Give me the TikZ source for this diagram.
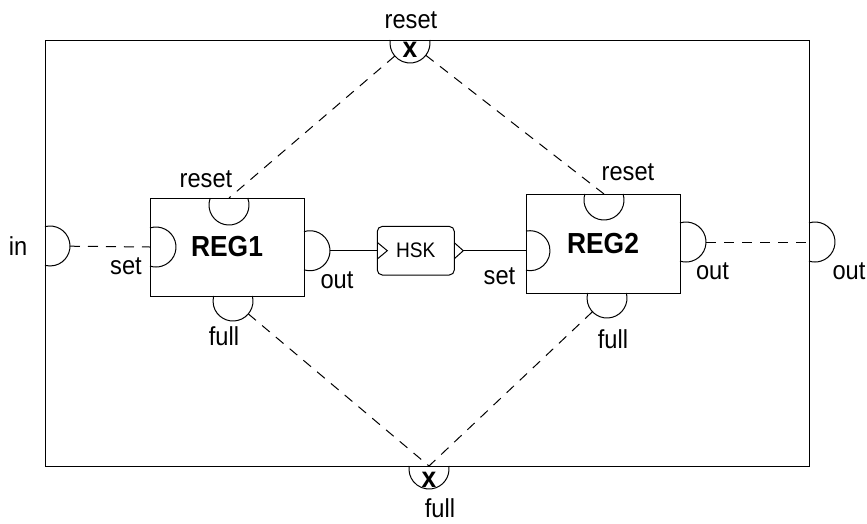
\documentclass[tikz,border=0pt]{standalone}
\usepackage{fontspec}
\setmainfont{Liberation Sans}[FakeStretch=0.91]
\usetikzlibrary{calc}
\tikzset{
 wire/.style={line width=1pt},
 dwire/.style={line width=1pt, dash pattern=on 10pt off 8pt},
 portline/.style={line width=1pt},
 pc/.style={circle, minimum size=40pt, inner sep=0pt, outer sep=0pt},
 lbl/.style={font=\fontsize{26}{30}\selectfont, anchor=base, inner sep=0pt},
 xlbl/.style={font=\fontsize{29}{32}\selectfont\bfseries, anchor=base, inner sep=0pt},
 regbox/.style={draw, line width=1pt, minimum width=154pt, minimum height=98pt, inner sep=0pt, outer sep=0pt, font=\fontsize{29}{32}\selectfont\bfseries},
 hskbox/.style={draw, line width=1pt, rounded corners=5pt, minimum width=77pt, minimum height=48.6pt, inner sep=0pt, outer sep=0pt, font=\fontsize{21}{25}\selectfont},
}
\newcommand{\pport}[5]{%
  \coordinate (#1-e) at (#2,#3);
  \pgfmathsetmacro\portang{acos(-#5/20)}
  \node[pc] (#1) at ($(#1-e)+(#4:#5)$) {};
  \draw[portline] (#1.center) ++({#4-\portang}:20) arc[start angle={#4-\portang}, end angle={#4+\portang}, radius=20];
}
\begin{document}
\begin{tikzpicture}[x=1pt,y=-1pt]
\useasboundingbox (0,0) rectangle (867,523);
% outer system box
\node[draw, line width=1pt, minimum width=764pt, minimum height=426pt, inner sep=0pt, outer sep=0pt] (sys) at (427,253) {};
% registers and handshake
\node[regbox] (reg1) at (227,247) {REG1};
\node[regbox, minimum height=99pt] (reg2) at (603,243.5) {REG2};
\node[hskbox] (hsk) at (415.8,250.7) {HSK};
\draw[wire] ($(hsk.west)+(0,-8.3)$) -- ($(hsk.west)+(10,0)$) -- ($(hsk.west)+(0,8.3)$);
\draw[wire] ($(hsk.east)+(0,-8)$) -- ($(hsk.east)+(9,0)$) coordinate (hsktip) -- ($(hsk.east)+(0,8)$);
% ports
\pport{in}{45}{246}{0}{5}
\pport{out}{809}{242}{0}{6}
\pport{rst}{410}{40}{90}{3}
\pport{ful}{429}{466}{90}{3}
\pport{aset}{150}{247}{0}{6}
\pport{arst}{229}{198}{90}{7}
\pport{aout}{304}{250.7}{0}{6}
\pport{aful}{233}{296}{90}{5}
\pport{bset}{526}{250.7}{0}{4}
\pport{brst}{604}{194}{90}{6}
\pport{bout}{680}{242}{0}{6}
\pport{bful}{607}{293}{90}{5}
% connections
\draw[dwire] (in) -- (aset-e);
\draw[wire] (aout) -- (hsk.west);
\draw[wire] (hsktip) -- (bset-e);
\draw[dwire] (bout) -- (out-e);
\draw[dwire] (rst) -- (arst-e);
\draw[dwire] (rst) -- (brst-e);
\draw[dwire] (aful) -- (ful-e);
\draw[dwire] (bful) -- (ful-e);
% labels
\node[lbl] (t-rst) at (411,28) {reset};
\node[xlbl] (x-rst) at (410,57.3) {x};
\node[xlbl] (x-ful) at (429,487) {x};
\node[lbl] (t-ful) at (440,517) {full};
\node[lbl] (t-in) at (18,255.7) {in};
\node[lbl] (t-out) at (849,279) {out};
\node[lbl] (t-arst) at (206,187.3) {reset};
\node[lbl] (t-aset) at (126,274.3) {set};
\node[lbl] (t-aout) at (337,288.3) {out};
\node[lbl] (t-aful) at (224,345) {full};
\node[lbl] (t-bset) at (499.5,284) {set};
\node[lbl] (t-brst) at (628,180.7) {reset};
\node[lbl] (t-bout) at (712.5,279) {out};
\node[lbl] (t-bful) at (613,348.3) {full};
\end{tikzpicture}
\end{document}
